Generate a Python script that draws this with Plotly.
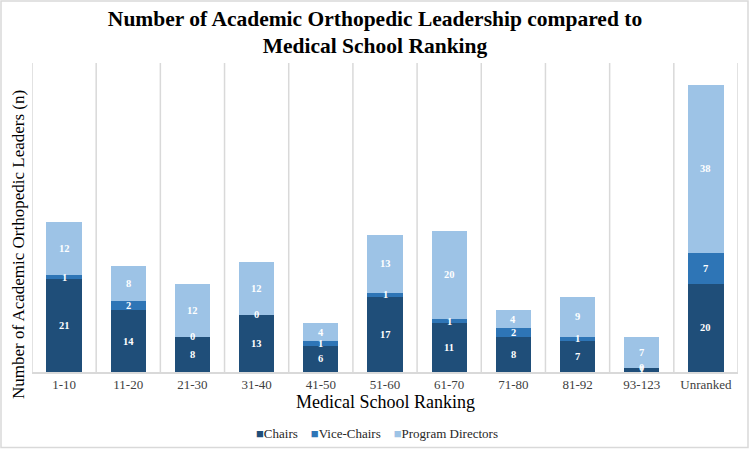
import plotly.graph_objects as go

categories = ["1-10", "11-20", "21-30", "31-40", "41-50", "51-60", "61-70", "71-80", "81-92", "93-123", "Unranked"]
chairs = [21, 14, 8, 13, 6, 17, 11, 8, 7, 1, 20]
vice_chairs = [1, 2, 0, 0, 1, 1, 1, 2, 1, 0, 7]
program_directors = [12, 8, 12, 12, 4, 13, 20, 4, 9, 7, 38]

series = [
    ("Chairs", chairs, "#1F4E79"),
    ("Vice-Chairs", vice_chairs, "#2E75B6"),
    ("Program Directors", program_directors, "#9DC3E6"),
]

FONT = "Liberation Serif, Times New Roman, serif"
W, H = 750, 450
ML, MR, MT, MB = 32, 12, 63, 78
PW, PH = W - ML - MR, H - MT - MB


def px_to_paper(xp, yp):
    return (xp - ML) / PW, (H - yp - MB) / PH


fig = go.Figure()
for name, vals, color in series:
    fig.add_trace(go.Bar(
        x=categories, y=vals, name=name, marker=dict(color=color, line=dict(width=0)),
        hoverinfo="x+y+name", showlegend=False,
    ))

# data labels (including zero segments)
annotations = []
base = [0] * len(categories)
for name, vals, color in series:
    for i, v in enumerate(vals):
        annotations.append(dict(
            x=categories[i], y=base[i] + v / 2, xref="x", yref="y", text="<b>" + str(v) + "</b>",
            showarrow=False, xanchor="center", yanchor="middle",
            font=dict(family=FONT, size=10.5, color="white"),
        ))
        base[i] += v

# y axis title
ax, ay = px_to_paper(18, 245)
annotations.append(dict(
    x=ax, y=ay, xref="paper", yref="paper", xanchor="center", yanchor="middle",
    text="Number of Academic Orthopedic Leaders (n)", textangle=-90, showarrow=False,
    font=dict(family=FONT, size=17, color="#000000"),
))

# x axis title
tx, ty = px_to_paper(385, 402)
annotations.append(dict(
    x=tx, y=ty, xref="paper", yref="paper", xanchor="center", yanchor="middle",
    text="Medical School Ranking", showarrow=False,
    font=dict(family=FONT, size=18, color="#000000"),
))

# legend (as text with coloured squares)
lx, ly = px_to_paper(377, 433)
legend_text = "&nbsp;&nbsp;&nbsp;&nbsp;".join(
    "<span style='color:%s'>■</span>%s" % (color, name) for name, vals, color in series
)
annotations.append(dict(
    x=lx, y=ly, xref="paper", yref="paper", xanchor="center", yanchor="middle",
    text=legend_text, showarrow=False,
    font=dict(family=FONT, size=13, color="#262626"),
))

shapes = []
for i in range(len(categories) + 1):
    shapes.append(dict(type="line", xref="x", yref="paper", x0=i - 0.5, x1=i - 0.5, y0=0, y1=1,
                       line=dict(color="#D9D9D9", width=1.5), layer="below"))
# outer border
shapes.append(dict(type="rect", xref="paper", yref="paper",
                   x0=(1 - ML) / PW, x1=1 + (MR - 2) / PW,
                   y0=-(MB - 2.5) / PH, y1=1 + (MT - 1) / PH,
                   line=dict(color="#D9D9D9", width=1.5), fillcolor="rgba(0,0,0,0)"))

fig.update_layout(
    width=W, height=H,
    margin=dict(l=ML, r=MR, t=MT, b=MB),
    barmode="stack", bargap=0.45,
    paper_bgcolor="white", plot_bgcolor="white",
    title=dict(text="<b>Number of Academic Orthopedic Leadership compared to<br>Medical School Ranking</b>",
               x=0.5, xanchor="center", yref="container", y=1 - 25.5 / H, yanchor="middle",
               font=dict(family=FONT, size=21.5, color="#000000")),
    xaxis=dict(
        type="category", showgrid=False, showline=True, linecolor="#D9D9D9", linewidth=1.5,
        ticks="", tickfont=dict(family=FONT, size=13, color="#404040"),
        range=[-0.5, len(categories) - 0.5],
    ),
    yaxis=dict(range=[0, 70], showgrid=False, showticklabels=False, zeroline=False, showline=False),
    annotations=annotations,
    shapes=shapes,
    showlegend=False,
)

fig.write_html("out.html", config={"displayModeBar": False},
               post_script="document.body.style.margin='0px';")
